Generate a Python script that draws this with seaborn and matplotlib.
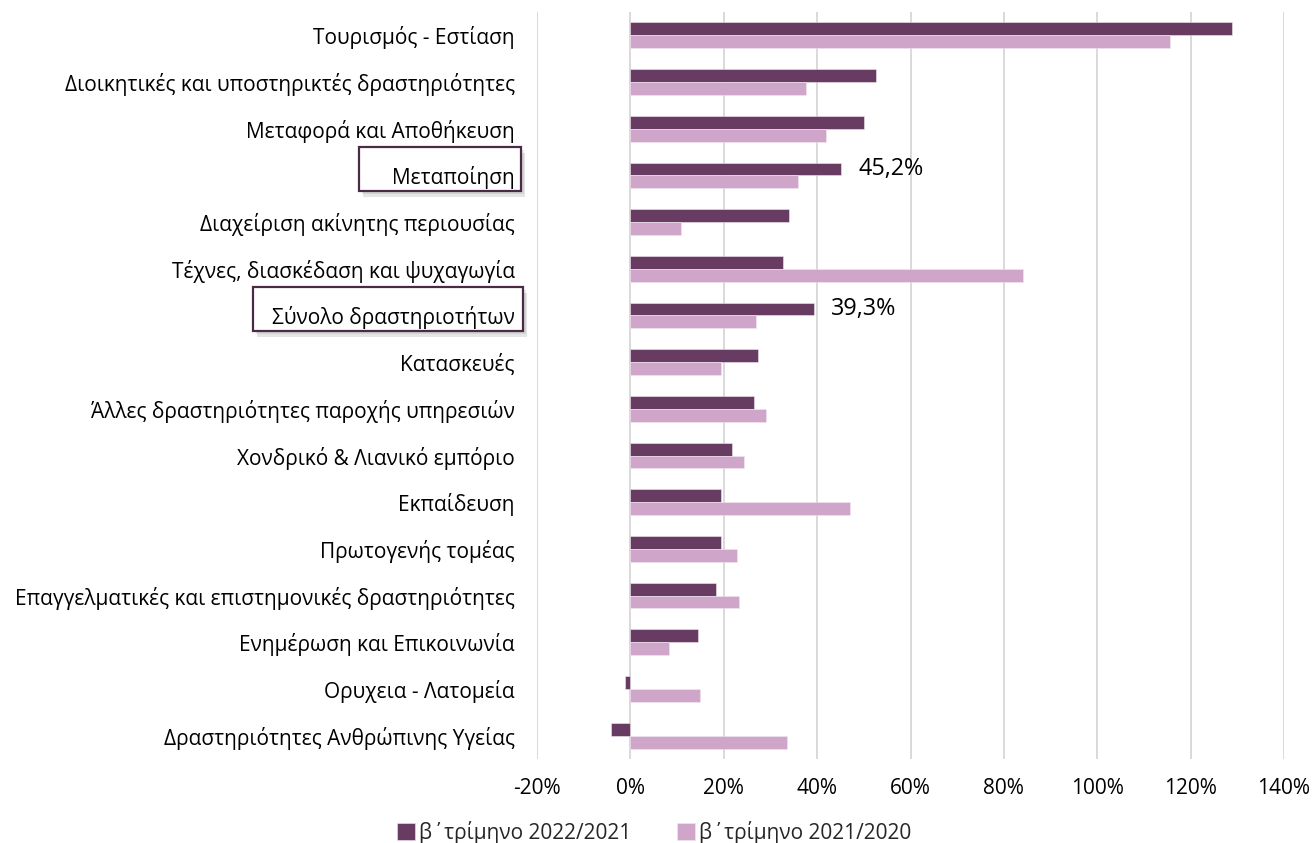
import matplotlib
matplotlib.use("Agg")
import matplotlib.pyplot as plt
import seaborn as sns
import pandas as pd
from matplotlib.patches import Rectangle
from matplotlib import patheffects
from matplotlib.transforms import blended_transform_factory
from matplotlib.ticker import MultipleLocator, FuncFormatter

# Data (in %)
categories = [
    "Τουρισμός - Εστίαση",
    "Διοικητικές και υποστηρικτές δραστηριότητες",
    "Μεταφορά και Αποθήκευση",
    "Μεταποίηση",
    "Διαχείριση ακίνητης περιουσίας",
    "Τέχνες, διασκέδαση και ψυχαγωγία",
    "Σύνολο δραστηριοτήτων",
    "Κατασκευές",
    "Άλλες δραστηριότητες παροχής υπηρεσιών",
    "Χονδρικό & Λιανικό εμπόριο",
    "Εκπαίδευση",
    "Πρωτογενής τομέας",
    "Επαγγελματικές και επιστημονικές δραστηριότητες",
    "Ενημέρωση και Επικοινωνία",
    "Ορυχεια - Λατομεία",
    "Δραστηριότητες Ανθρώπινης Υγείας",
]
q2_2022_vs_2021 = [128.8, 52.5, 50.1, 45.2, 33.9, 32.6, 39.3, 27.4,
                   26.5, 21.8, 19.4, 19.4, 18.3, 14.4, -1.1, -4.2]
q2_2021_vs_2020 = [115.6, 37.7, 41.9, 35.9, 10.8, 84.0, 27.0, 19.3,
                   29.1, 24.4, 47.0, 22.9, 23.2, 8.3, 14.8, 33.6]
series_names = ["β΄τρίμηνο 2022/2021", "β΄τρίμηνο 2021/2020"]
highlighted = ["Μεταποίηση", "Σύνολο δραστηριοτήτων"]

df = pd.DataFrame({
    "category": categories * 2,
    "value": q2_2022_vs_2021 + q2_2021_vs_2020,
    "series": [series_names[0]] * len(categories) + [series_names[1]] * len(categories),
})

dark = "#683B63"
light = "#CFA6CA"

sns.set_theme(style="white")
plt.rcParams['font.family'] = ['Open Sans', 'DejaVu Sans']

fig = plt.figure(figsize=(13.14, 8.43), dpi=100, facecolor="white")
ax = fig.add_axes([0.4087, 0.0996, 0.5685, 0.8862])

sns.barplot(data=df, x="value", y="category", hue="series", orient="h",
            palette=[dark, light], saturation=1, width=0.55,
            edgecolor="#F2E6F0", linewidth=0.4, ax=ax)

ax.set_xlim(-20, 140)
ax.xaxis.set_major_locator(MultipleLocator(20))
ax.xaxis.set_major_formatter(FuncFormatter(lambda v, p: f"{v:.0f}%"))
ax.grid(axis="x", color="#D9D9D9", linewidth=1.4)
ax.grid(axis="y", visible=False)
ax.set_axisbelow(True)
for s in ax.spines.values():
    s.set_visible(False)
ax.set_xlabel("")
ax.set_ylabel("")
ax.tick_params(axis="x", length=0, labelsize=15, pad=14, labelcolor="#000000")
ax.tick_params(axis="y", length=0, labelsize=15, pad=16, labelcolor="#000000")

# value labels for the highlighted rows
for cat in highlighted:
    i = categories.index(cat)
    v = q2_2022_vs_2021[i]
    ax.annotate(f"{v:.1f}%".replace(".", ","), xy=(v, i - 0.135),
                xytext=(12, 0), textcoords="offset points",
                ha="left", va="center", fontsize=16.8, color="#000000")

# boxes around the highlighted labels (x in figure fraction)
box_x = {"Μεταποίηση": (0.2732, 0.1233), "Σύνολο δραστηριοτήτων": (0.1925, 0.2055)}
trans = blended_transform_factory(fig.transFigure, ax.transData)
for cat in highlighted:
    i = categories.index(cat)
    x0, w = box_x[cat]
    rect = Rectangle((x0, i - 0.6), w, 0.94, transform=trans, clip_on=False,
                     facecolor="white", edgecolor="#4A2A45", linewidth=1.6, zorder=0.4)
    rect.set_path_effects([patheffects.SimplePatchShadow(offset=(3, -4), shadow_rgbFace="#000000", alpha=0.1),
                           patheffects.SimplePatchShadow(offset=(2, -2), shadow_rgbFace="#000000", alpha=0.08),
                           patheffects.Normal()])
    ax.add_patch(rect)

handles, labels = ax.get_legend_handles_labels()
ax.legend(handles, labels, loc="center", bbox_to_anchor=(0.498, 0.013),
          bbox_transform=fig.transFigure, ncol=2, frameon=False,
          handlelength=0.85, handleheight=0.85, handletextpad=0.2,
          columnspacing=2.2, fontsize=15)

fig.savefig("out.png", dpi=100, facecolor="white")
